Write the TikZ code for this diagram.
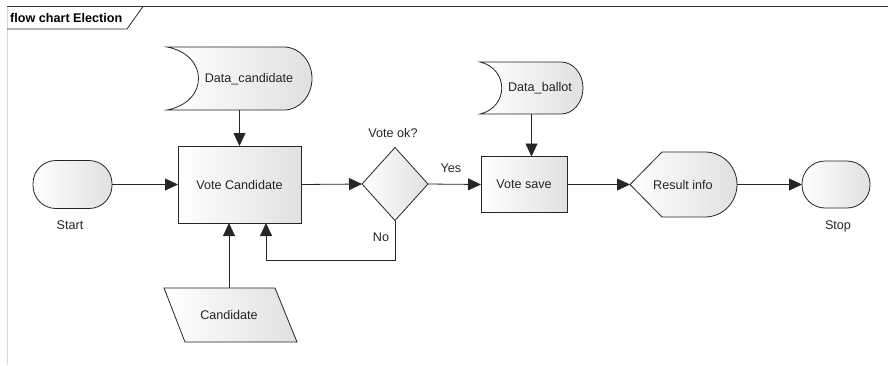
\documentclass[tikz,border=0pt]{standalone}
\usepackage{fontspec}
\setmainfont{Liberation Sans}
\usepackage{tikz}
\usetikzlibrary{positioning,arrows.meta,shapes.geometric}

\begin{document}
\begin{tikzpicture}[x=1pt,y=-1pt]
  \tikzset{BoxStyle/.style = {
    shape         = rectangle,
    draw          = black!85,
    left color    = white,
    right color   = black!12,
    line width    = 0.8pt,
    text          = black!85,
    font          = \fontsize{12.6}{14}\selectfont,
    inner sep     = 0pt,
    outer sep     = 0pt
    }
  }
  \tikzset{TermStyle/.style = {
    BoxStyle,
    rounded corners = 23pt
    }
  }
  \tikzset{FrameStyle/.style = {
    shape         = rectangle,
    draw          = none,
    inner sep     = 0pt,
    outer sep     = 0pt
    }
  }
  \tikzset{ShapeLineStyle/.style = {
    draw          = black!85,
    left color    = white,
    right color   = black!12,
    line width    = 0.8pt
    }
  }
  \tikzset{EdgeStyle/.style = {
    draw          = black!85,
    line width    = 0.8pt,
    -{Triangle[length=13pt,width=12pt]}
    }
  }
  \tikzset{LabelStyle/.style = {
    text          = black!85,
    font          = \fontsize{12.6}{14}\selectfont,
    inner sep     = 0pt
    }
  }

  \useasboundingbox (0,0) rectangle (888,365);

  % frame with title tab
  \draw[black!15, line width=0.6pt] (7,6.5) -- (7,365);
  \draw[black!80, line width=1.2pt] (7,6.5) -- (888,6.5);
  \draw[black!85, line width=0.8pt] (7,29) -- (127,29) -- (143,6.5);
  \node[LabelStyle, anchor=west, font=\fontsize{12.6}{14}\selectfont\bfseries, text=black] (title) at (10,17.5) {flow chart Election};

  % terminators
  \node[TermStyle, minimum width=79pt, minimum height=48pt] (start) at (72.5,184.5) {};
  \node[LabelStyle] (startl) at (70,225) {Start};
  \node[TermStyle, minimum width=68pt, minimum height=47pt] (stop) at (836,184.5) {};
  \node[LabelStyle] (stopl) at (838,226) {Stop};

  % process boxes
  \node[BoxStyle, minimum width=123pt, minimum height=77pt] (vc) at (239.5,184.5) {Vote Candidate};
  \node[BoxStyle, minimum width=86pt, minimum height=56pt] (vs) at (524,184.5) {Vote save};

  % decision
  \node[BoxStyle, shape=diamond, minimum width=66pt, minimum height=73pt] (dm) at (395,184) {};
  \node[LabelStyle] (dml) at (393,133) {Vote ok?};

  % stored data
  \node[FrameStyle, minimum width=145pt, minimum height=63pt] (dc) at (239.5,78.5) {};
  \path[ShapeLineStyle] (dc.south west) .. controls ([xshift=42pt,yshift=8pt]dc.south west) and ([xshift=42pt,yshift=-8pt]dc.north west) .. (dc.north west)
    -- ([xshift=-28pt]dc.north east) arc[start angle=-90, end angle=90, x radius=28, y radius=31.5] -- cycle;
  \node[LabelStyle] (dcl) at (249,79) {Data\_candidate};

  \node[FrameStyle, minimum width=103pt, minimum height=52pt] (db) at (531.5,88) {};
  \path[ShapeLineStyle] (db.south west) .. controls ([xshift=29pt,yshift=7pt]db.south west) and ([xshift=29pt,yshift=-7pt]db.north west) .. (db.north west)
    -- ([xshift=-22pt]db.north east) arc[start angle=-90, end angle=90, x radius=22, y radius=26] -- cycle;
  \node[LabelStyle] (dbl) at (540,88) {Data\_ballot};

  % manual input
  \node[FrameStyle, minimum width=133pt, minimum height=54pt] (cd) at (230.5,315) {};
  \path[ShapeLineStyle] (cd.north west) -- ([xshift=-22pt]cd.north east) -- (cd.south east) -- ([xshift=21pt]cd.south west) -- cycle;
  \node[LabelStyle] (cdl) at (229,315) {Candidate};

  % display
  \node[FrameStyle, minimum width=107pt, minimum height=65pt] (ri) at (683.5,184.5) {};
  \path[ShapeLineStyle] (ri.west) -- ([xshift=32pt]ri.north west) -- ([xshift=-32pt]ri.north east)
    arc[start angle=-90, end angle=90, x radius=32, y radius=32.5] -- ([xshift=32pt]ri.south west) -- cycle;
  \node[LabelStyle] (ril) at (683,184.5) {Result info};

  % connectors
  \draw[EdgeStyle] (start) -- (vc);
  \draw[EdgeStyle] (dc) -- (vc);
  \draw[EdgeStyle] (cd.north -| cdl) -- (cdl |- vc.south);
  \draw[EdgeStyle] (vc.east) -- (dm.west);
  \draw[EdgeStyle] (dm.south) -- ++(0,40) -| ([xshift=26.5pt]vc.south);
  \node[LabelStyle] (no) at (381,237) {No};
  \draw[EdgeStyle] (dm.east) -- (vs.west);
  \node[LabelStyle] (yes) at (451,168) {Yes};
  \draw[EdgeStyle] (db.south) -- (db.south |- vs.north);
  \draw[EdgeStyle] (vs.east) -- (ri.west);
  \draw[EdgeStyle] (ri.east) -- (stop);

\end{tikzpicture}
\end{document}
